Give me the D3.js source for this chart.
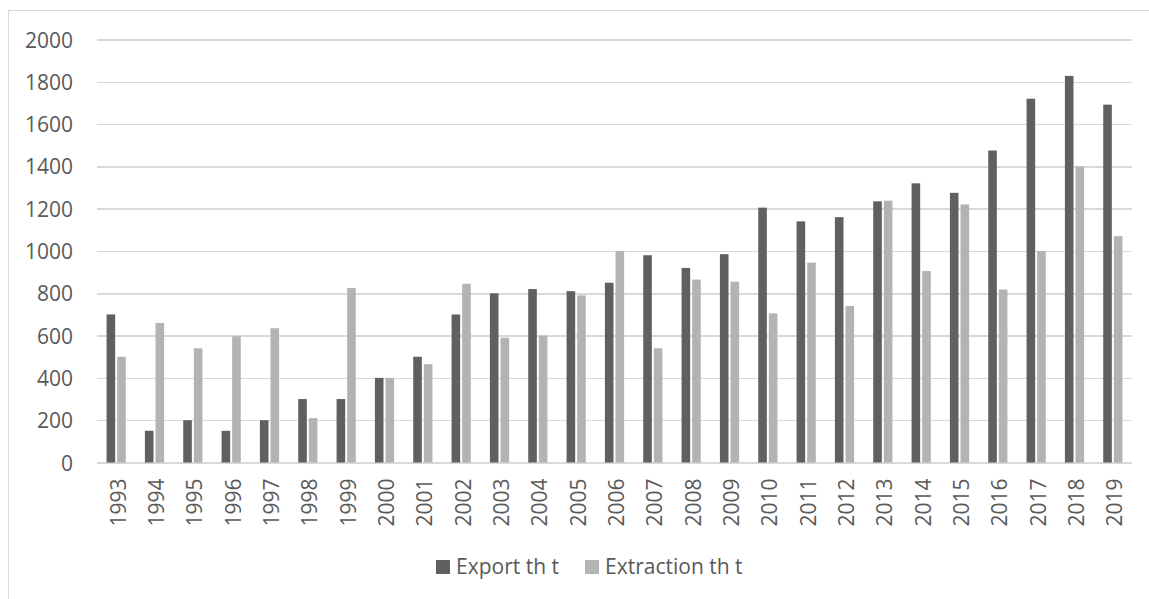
<!DOCTYPE html>
<meta charset="utf-8">
<style>
body { margin: 0; background: #fff; }
svg text { font-family: "Open Sans", sans-serif; fill: #595959; }
.grid line { stroke: #d9d9d9; stroke-width: 1.5; shape-rendering: crispEdges; }
.grid path { display: none; }
.axis path, .axis line { display: none; }
</style>
<body>
<script src="https://cdn.jsdelivr.net/npm/d3@7"></script>
<script>

var years = ["1993","1994","1995","1996","1997","1998","1999","2000","2001","2002",
  "2003","2004","2005","2006","2007","2008","2009","2010","2011","2012",
  "2013","2014","2015","2016","2017","2018","2019"];
var exportVals = [700,150,200,150,200,300,300,400,500,700,
  800,820,810,850,980,920,985,1205,1140,1160,
  1235,1320,1275,1475,1720,1828,1692];
var extractionVals = [500,660,540,597,635,210,825,400,465,845,
  590,600,790,1000,540,865,855,705,945,740,
  1238,905,1220,818,1000,1400,1070];
var seriesNames = ["Export th t", "Extraction th t"];
var colors = ["#606060", "#b3b3b3"];
var yTicks = [0,200,400,600,800,1000,1200,1400,1600,1800,2000];

var W = 1149, H = 599;
var margin = {left: 97, right: 17, top: 39.5, bottom: 136.5};
var fontSize = "21px";

var svg = d3.select("body").append("svg")
    .attr("width", W)
    .attr("height", H);

// chart border
svg.append("rect")
    .attr("x", 8.5).attr("y", 10.5)
    .attr("width", W + 10).attr("height", H + 10)
    .attr("fill", "none")
    .attr("stroke", "#d9d9d9");

var x = d3.scaleBand()
    .domain(years)
    .range([margin.left, W - margin.right]);

var y = d3.scaleLinear()
    .domain([0, 2000])
    .range([H - margin.bottom, margin.top]);

var barW = 8.6, gap = 2;

svg.append("g")
    .attr("class", "grid")
    .attr("transform", "translate(" + margin.left + ",0)")
    .call(d3.axisLeft(y).tickValues(yTicks).tickSize(-(W - margin.left - margin.right)).tickFormat(""));

svg.append("g")
    .attr("class", "axis y")
    .attr("transform", "translate(" + margin.left + ",0)")
    .call(d3.axisLeft(y).tickValues(yTicks).tickSize(0).tickPadding(24).tickFormat(d3.format("d")))
    .selectAll("text")
    .style("font-size", fontSize)
    .attr("dy", "0.36em");

var data = years.map(function(yr, i) {
  return {year: yr, vals: [exportVals[i], extractionVals[i]]};
});

var groups = svg.selectAll(".yr")
    .data(data)
  .enter().append("g")
    .attr("class", "yr")
    .attr("transform", function(d) {
      return "translate(" + (x(d.year) + x.bandwidth() / 2 - (barW * 2 + gap) / 2) + ",0)";
    });

groups.selectAll("rect")
    .data(function(d) { return d.vals; })
  .enter().append("rect")
    .attr("x", function(d, i) { return i * (barW + gap); })
    .attr("width", barW)
    .attr("y", function(d) { return y(d); })
    .attr("height", function(d) { return y(0) - y(d); })
    .attr("fill", function(d, i) { return colors[i]; });

svg.append("g")
    .attr("class", "axis x")
    .attr("transform", "translate(0," + y(0) + ")")
    .call(d3.axisBottom(x).tickSize(0).tickPadding(0))
    .selectAll("text")
    .style("font-size", fontSize)
    .attr("text-anchor", "end")
    .attr("transform", "rotate(-90)")
    .attr("x", -16)
    .attr("y", 2)
    .attr("dy", "0.35em");

// legend
var legend = svg.append("g").attr("class", "legend");
var legX = [436, 585];
seriesNames.forEach(function(name, i) {
  legend.append("rect")
      .attr("x", legX[i]).attr("y", 560)
      .attr("width", 14).attr("height", 14)
      .attr("fill", colors[i]);
  legend.append("text")
      .attr("x", legX[i] + 20).attr("y", 567)
      .attr("dy", "0.35em")
      .style("font-size", fontSize)
      .text(name);
});

</script>
</body>
